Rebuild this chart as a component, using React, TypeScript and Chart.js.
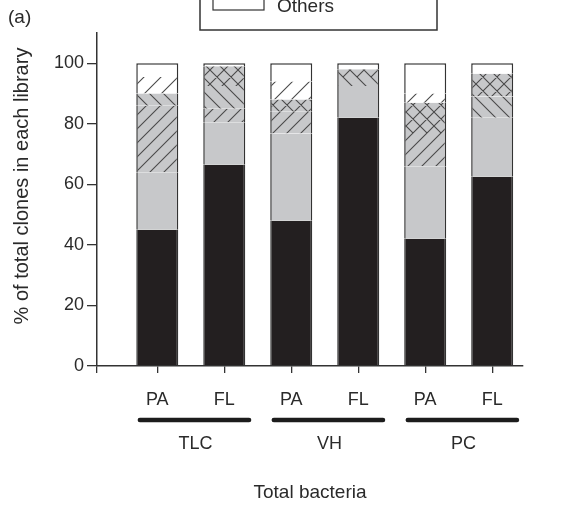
import React, { useEffect, useRef } from 'react';
import { Chart, registerables } from 'chart.js';

Chart.register(...registerables);

// ---------- data ----------
const categories = ['PA', 'FL', 'PA', 'FL', 'PA', 'FL'];
const positions = [1, 2, 3, 4, 5, 6];
const groups = ['TLC', 'VH', 'PC'];
const yTicks = [0, 20, 40, 60, 80, 100];
const xAxisTitle = 'Total bacteria';
const yAxisTitle = '% of total clones in each library';
const panelLabel = '(a)';
const legendVisible = 'Others';

const seriesBlack = [45, 66.5, 48, 82, 42, 62.5];
const seriesGray = [19, 14, 28.8, 10.5, 24, 19.5];
const seriesGrayFwd = [22, 4.5, 7.2, 0, 11, 0];
const seriesGrayBack = [4, 7.5, 0, 3, 0, 7];
const seriesGrayCross = [0, 6.5, 4, 2.5, 10, 7.5];
const seriesWhiteFwd = [5.5, 0, 6, 0, 3, 0];
const seriesOthers = [4.5, 1, 6, 2, 10, 3.5];

const FONT = "'Liberation Sans', Arial, Helvetica, sans-serif";
const TEXT = '#2a2a2a';
const GRAY = '#c7c8ca';
const BLACK = '#231f20';
const X_MIN = 0.1;
const X_MAX = 6.46;

function hatch(bg: string, kind: 'fwd' | 'back' | 'cross', s = 14): CanvasPattern | string {
  const c = document.createElement('canvas');
  c.width = s;
  c.height = s;
  const g = c.getContext('2d');
  if (!g) return bg;
  g.fillStyle = bg;
  g.fillRect(0, 0, s, s);
  g.strokeStyle = '#4a4a4a';
  g.lineWidth = 1.1;
  g.beginPath();
  if (kind === 'fwd' || kind === 'cross') {
    g.moveTo(0, s); g.lineTo(s, 0);
    g.moveTo(-2, 2); g.lineTo(2, -2);
    g.moveTo(s - 2, s + 2); g.lineTo(s + 2, s - 2);
  }
  if (kind === 'back' || kind === 'cross') {
    g.moveTo(0, 0); g.lineTo(s, s);
    g.moveTo(-2, s - 2); g.lineTo(2, s + 2);
    g.moveTo(s - 2, -2); g.lineTo(s + 2, 2);
  }
  g.stroke();
  const p = g.createPattern(c, 'repeat');
  return p || bg;
}

const overlayPlugin = {
  id: 'overlay',
  afterDraw(chart: any) {
    const ctx = chart.ctx as CanvasRenderingContext2D;
    const xs = chart.scales.x;
    const area = chart.chartArea;
    ctx.save();
    ctx.fillStyle = TEXT;
    ctx.strokeStyle = '#1c1c1c';
    // group lines + labels
    groups.forEach((gname, gi) => {
      const c = (positions[2 * gi] + positions[2 * gi + 1]) / 2;
      const x1 = xs.getPixelForValue(c - 0.76);
      const x2 = xs.getPixelForValue(c + 0.87);
      ctx.lineWidth = 4.5;
      ctx.lineCap = 'round';
      ctx.beginPath();
      ctx.moveTo(x1, 420);
      ctx.lineTo(x2, 420);
      ctx.stroke();
      ctx.font = `18px ${FONT}`;
      ctx.textAlign = 'center';
      ctx.textBaseline = 'middle';
      ctx.fillText(gname, xs.getPixelForValue(c + 0.07), 444);
    });
    // x title
    ctx.font = `19px ${FONT}`;
    ctx.textAlign = 'center';
    ctx.textBaseline = 'middle';
    ctx.fillText(xAxisTitle, (area.left + area.right) / 2, 493);
    // y title
    ctx.save();
    ctx.translate(22, 186);
    ctx.rotate(-Math.PI / 2);
    ctx.font = `20px ${FONT}`;
    ctx.fillText(yAxisTitle, 0, 0);
    ctx.restore();
    // panel label
    ctx.font = `19px ${FONT}`;
    ctx.textAlign = 'left';
    ctx.fillText(panelLabel, 8, 18);
    // legend (clipped at top)
    ctx.lineWidth = 1.5;
    ctx.strokeStyle = '#333';
    ctx.strokeRect(200, -10, 237, 40);
    ctx.fillStyle = '#fff';
    ctx.fillRect(213, -4, 51, 14);
    ctx.lineWidth = 1.2;
    ctx.strokeRect(213, -4, 51, 14);
    ctx.fillStyle = TEXT;
    ctx.font = `19px ${FONT}`;
    ctx.textAlign = 'left';
    ctx.textBaseline = 'alphabetic';
    ctx.fillText(legendVisible, 277, 12);
    ctx.restore();
  },
};

export default function App() {
  const ref = useRef<HTMLCanvasElement | null>(null);

  useEffect(() => {
    if (!ref.current) return;
    const side = { left: 1.5, right: 1.5, top: 0, bottom: 0 };
    const mk = (label: string, values: number[], bg: any, top = false) => ({
      label,
      data: values.map((v, i) => ({ x: positions[i], y: v })),
      backgroundColor: bg,
      borderColor: '#333',
      borderWidth: top ? { left: 1.5, right: 1.5, top: 1.5, bottom: 0 } : side,
      borderSkipped: false as any,
      categoryPercentage: 1,
      barPercentage: 0.697,
    });
    const datasets = [
      mk('Group 1', seriesBlack, BLACK),
      mk('Group 2', seriesGray, GRAY),
      mk('Group 3', seriesGrayFwd, hatch(GRAY, 'fwd')),
      mk('Group 4', seriesGrayBack, hatch(GRAY, 'back')),
      mk('Group 5', seriesGrayCross, hatch(GRAY, 'cross')),
      mk('Group 6', seriesWhiteFwd, hatch('#ffffff', 'fwd', 17)),
      mk(legendVisible, seriesOthers, '#ffffff', true),
    ];
    const chart = new Chart(ref.current, {
      type: 'bar',
      data: { datasets } as any,
      options: {
        animation: false,
        responsive: false,
        layout: { padding: { top: 33, left: 0, right: 48, bottom: 0 } },
        plugins: { legend: { display: false }, tooltip: { enabled: false } },
        scales: {
          x: {
            type: 'linear',
            min: X_MIN,
            max: X_MAX,
            offset: false,
            stacked: true,
            afterBuildTicks: (axis: any) => {
              axis.ticks = [X_MIN, ...positions].map((v) => ({ value: v }));
            },
            afterFit: (axis: any) => {
              axis.height = 139;
            },
            ticks: {
              autoSkip: false,
              maxRotation: 0,
              padding: 16,
              color: TEXT,
              font: { family: FONT, size: 18 },
              callback: (v: any) => {
                const i = positions.indexOf(Number(v));
                return i >= 0 ? categories[i] : '';
              },
            },
            grid: { offset: false, drawOnChartArea: false, drawTicks: true, tickLength: 7, color: '#333', lineWidth: 1.3 },
            border: { display: true, color: '#333', width: 1.5 },
          },
          y: {
            min: 0,
            max: 110,
            stacked: true,
            afterBuildTicks: (axis: any) => {
              axis.ticks = yTicks.map((v) => ({ value: v }));
            },
            afterFit: (axis: any) => {
              axis.width = 97;
            },
            ticks: { padding: 3, color: TEXT, font: { family: FONT, size: 18 } },
            grid: { drawOnChartArea: false, drawTicks: true, tickLength: 10, color: '#333', lineWidth: 1.3 },
            border: { display: true, color: '#333', width: 1.5 },
          },
        },
      } as any,
      plugins: [overlayPlugin],
    });
    return () => chart.destroy();
  }, []);

  return (
    <div style={{ position: 'absolute', left: 0, top: 0, width: 571, height: 505, background: '#fff' }}>
      <canvas ref={ref} width={571} height={505} style={{ display: 'block' }} />
    </div>
  );
}
